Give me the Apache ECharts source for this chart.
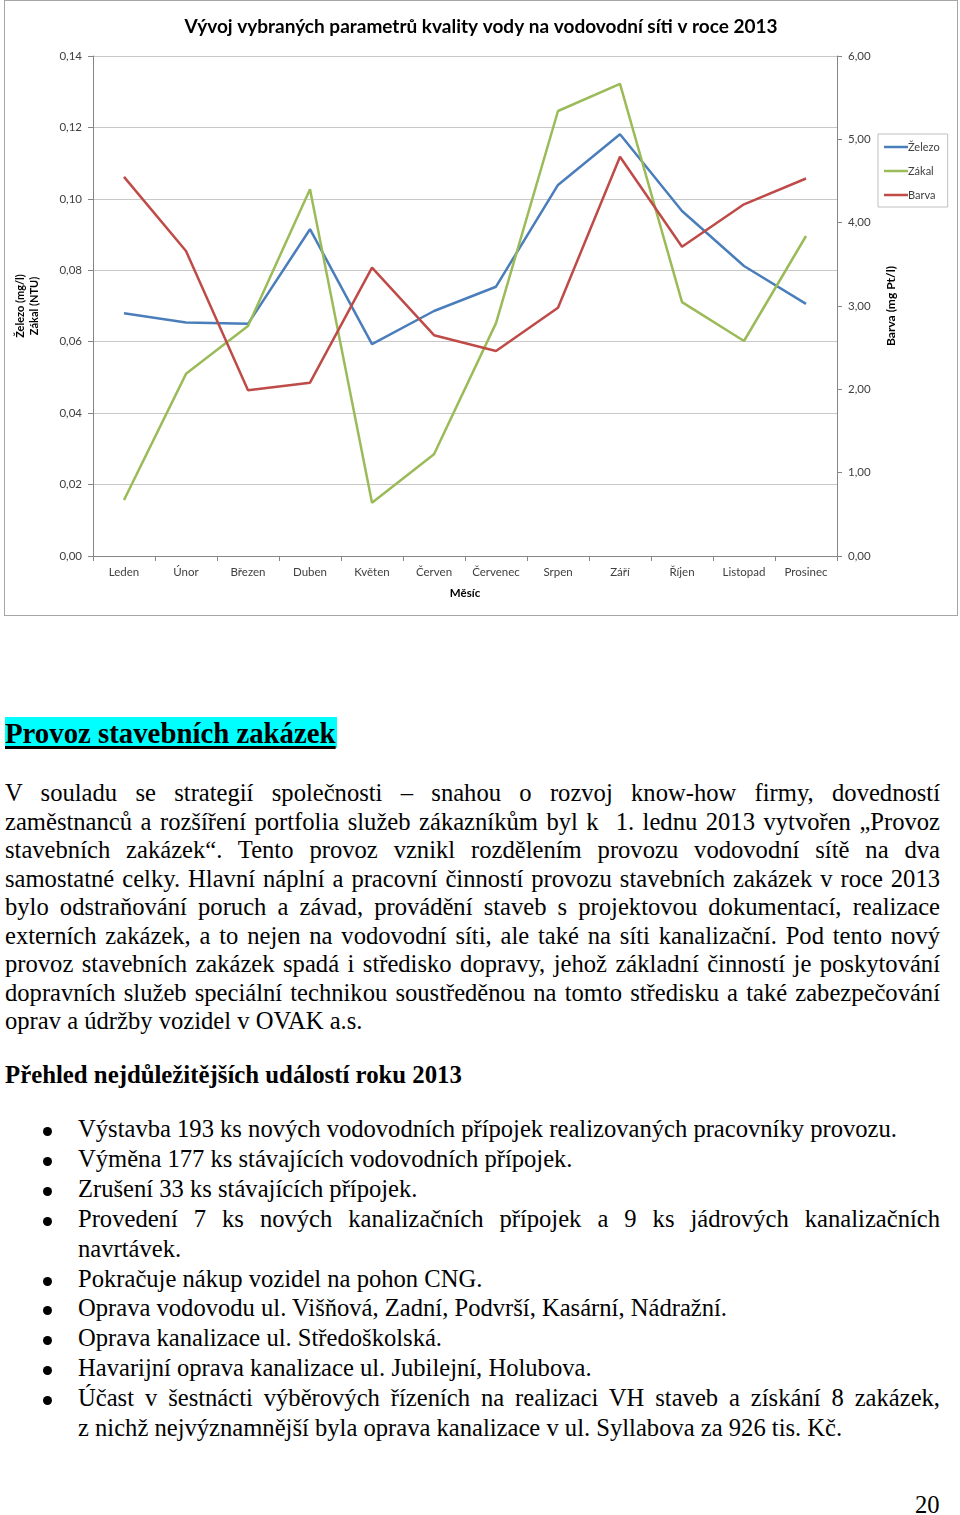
<!DOCTYPE html>
<html lang="cs">
<head>
<meta charset="utf-8">
<title>Vývoj vybraných parametrů kvality vody</title>
<script src="https://cdn.jsdelivr.net/npm/echarts@6/dist/echarts.min.js"></script>
<style>
  html, body { margin: 0; padding: 0; background: #fff; }
  body { width: 960px; height: 1515px; position: relative; overflow: hidden;
         font-family: "Liberation Serif", "Times New Roman", serif; color: #000; }
  #chartBox { position: absolute; left: 4px; top: 0px; width: 952px; height: 614px;
              border: 1px solid #a6a6a6; }
  #chart { width: 952px; height: 614px; }
  .h1 { position: absolute; left: 5px; top: 717px; height: 31px; line-height: 33px;
        font-size: 28.8px; font-weight: bold; background: #00ffff; padding: 0 1px 0 0;
        text-decoration: underline; text-decoration-thickness: 3px; text-underline-offset: 3px; white-space: nowrap; }
  .para { position: absolute; left: 5px; top: 779px; width: 935px; font-size: 24.6px; line-height: 28.5px; }
  .ln { text-align: justify; text-align-last: justify; white-space: normal; }
  .ln.last { text-align: left; text-align-last: left; }
  .h2 { position: absolute; left: 5px; top: 1061px; font-size: 24.8px; font-weight: bold; line-height: 28px; white-space: nowrap; }
  .list { position: absolute; left: 78px; top: 1114px; width: 862px; font-size: 24.6px; line-height: 29.9px; }
  .item { position: relative; }
  .item::before { content: ""; position: absolute; left: -35px; top: 13px; width: 9px; height: 9px;
                  border-radius: 50%; background: #000; }
  .pg { position: absolute; left: 915px; top: 1491px; font-size: 24.6px; line-height: 28px; }
</style>
</head>
<body>
<div id="chartBox"><div id="chart"></div></div>

<div class="h1">Provoz stavebních zakázek</div>
<div class="para">
  <div class="ln">V souladu se strategií společnosti – snahou o rozvoj know-how firmy, dovedností</div>
  <div class="ln">zaměstnanců a rozšíření portfolia služeb zákazníkům byl k&nbsp; 1. lednu 2013 vytvořen „Provoz</div>
  <div class="ln">stavebních zakázek“. Tento provoz vznikl rozdělením provozu vodovodní sítě na dva</div>
  <div class="ln">samostatné celky. Hlavní náplní a pracovní činností provozu stavebních zakázek v roce 2013</div>
  <div class="ln">bylo odstraňování poruch a závad, provádění staveb s&nbsp;projektovou dokumentací, realizace</div>
  <div class="ln">externích zakázek, a to nejen na vodovodní síti, ale také na síti kanalizační. Pod tento nový</div>
  <div class="ln">provoz stavebních zakázek spadá i středisko dopravy, jehož základní činností je poskytování</div>
  <div class="ln">dopravních služeb speciální technikou soustředěnou na tomto středisku a také zabezpečování</div>
  <div class="ln last">oprav a údržby vozidel v OVAK a.s.</div>
</div>
<div class="h2">Přehled nejdůležitějších událostí roku 2013</div>
<div class="list">
  <div class="item"><div class="ln last">Výstavba 193 ks nových vodovodních přípojek realizovaných pracovníky provozu.</div></div>
  <div class="item"><div class="ln last">Výměna 177 ks stávajících vodovodních přípojek.</div></div>
  <div class="item"><div class="ln last">Zrušení 33 ks stávajících přípojek.</div></div>
  <div class="item"><div class="ln">Provedení 7 ks nových kanalizačních přípojek a 9 ks jádrových kanalizačních</div><div class="ln last">navrtávek.</div></div>
  <div class="item"><div class="ln last">Pokračuje nákup vozidel na pohon CNG.</div></div>
  <div class="item"><div class="ln last">Oprava vodovodu ul. Višňová, Zadní, Podvrší, Kasární, Nádražní.</div></div>
  <div class="item"><div class="ln last">Oprava kanalizace ul. Středoškolská.</div></div>
  <div class="item"><div class="ln last">Havarijní oprava kanalizace ul. Jubilejní, Holubova.</div></div>
  <div class="item"><div class="ln">Účast v&nbsp;šestnácti výběrových řízeních na realizaci VH staveb a získání 8 zakázek,</div><div class="ln last">z nichž nejvýznamnější byla oprava kanalizace v ul. Syllabova za 926 tis. Kč.</div></div>
</div>
<div class="pg">20</div>

<script>
// ---- data ----
const months = ["Leden", "Únor", "Březen", "Duben", "Květen", "Červen", "Červenec", "Srpen", "Září", "Říjen", "Listopad", "Prosinec"];
const zelezo = [0.068, 0.0654, 0.065, 0.0915, 0.0593, 0.0686, 0.0754, 0.1039, 0.1181, 0.0966, 0.0812, 0.0706];
const zakal  = [0.0157, 0.051, 0.0644, 0.1027, 0.0149, 0.0285, 0.0652, 0.1246, 0.1322, 0.0711, 0.0602, 0.0896];
const barva  = [4.55, 3.66, 1.99, 2.08, 3.46, 2.65, 2.46, 2.98, 4.79, 3.71, 4.22, 4.53];
const seriesNames = ["Železo", "Zákal", "Barva"];
const leftAxisRange = [0, 0.14, 0.02];
const rightAxisRange = [0, 6, 1];
const chartTitle = "Vývoj vybraných parametrů kvality vody na vodovodní síti v roce 2013";
const leftAxisName = "Železo (mg/l)\nZákal (NTU)";
const rightAxisName = "Barva (mg Pt/l)";
const xAxisName = "Měsíc";

// keep each text line on one row: shrink slightly if a line would wrap
document.querySelectorAll(".ln").forEach(el => {
  let fs = parseFloat(getComputedStyle(el).fontSize);
  const lh = parseFloat(getComputedStyle(el).lineHeight);
  let guard = 0;
  while (el.offsetHeight > lh * 1.5 && guard++ < 40) { fs -= 0.2; el.style.fontSize = fs + "px"; }
});

const colors = ["#4A7EBB", "#9BBB59", "#BE4B48"];
const FONT = "Lato";
const fmt = d => v => v.toFixed(d).replace(".", ",");

const chart = echarts.init(document.getElementById("chart"), null, { renderer: "canvas" });
chart.setOption({
  animation: false,
  color: colors,
  title: {
    text: chartTitle, left: "center", top: 11,
    textStyle: { fontFamily: FONT, fontSize: 19, fontWeight: "bold", color: "#000" }
  },
  legend: {
    orient: "vertical", left: 873, top: 133,
    data: seriesNames,
    icon: "rect",
    itemWidth: 24, itemHeight: 2.5, itemGap: 10,
    padding: [6, 8, 5, 6],
    borderColor: "#bfbfbf", borderWidth: 1,
    textStyle: { fontFamily: FONT, fontSize: 11, color: "#404040", lineHeight: 14, padding: [0, 0, 0, -5] }
  },
  grid: { left: 87, right: 120, top: 55, bottom: 59 },
  xAxis: {
    type: "category", data: months, boundaryGap: true,
    name: xAxisName, nameLocation: "middle", nameGap: 31,
    nameTextStyle: { fontFamily: FONT, fontSize: 11.5, fontWeight: "bold", color: "#000" },
    axisLine: { lineStyle: { color: "#868686", width: 1 } },
    axisTick: { show: true, length: 5, lineStyle: { color: "#868686" } },
    axisLabel: { fontFamily: FONT, fontSize: 11.5, color: "#404040", margin: 10, interval: 0 }
  },
  yAxis: [
    {
      type: "value", position: "left",
      min: leftAxisRange[0], max: leftAxisRange[1], interval: leftAxisRange[2],
      name: leftAxisName, nameLocation: "middle", nameGap: 52,
      nameTextStyle: { fontFamily: FONT, fontSize: 11, fontWeight: "bold", color: "#000", lineHeight: 14 },
      axisLine: { show: true, lineStyle: { color: "#868686" } },
      axisTick: { show: true, length: 5, lineStyle: { color: "#868686" } },
      axisLabel: { fontFamily: FONT, fontSize: 11.5, color: "#404040", margin: 11, formatter: fmt(2) },
      splitLine: { show: true, lineStyle: { color: "#c8c8c8", width: 1 } }
    },
    {
      type: "value", position: "right",
      min: rightAxisRange[0], max: rightAxisRange[1], interval: rightAxisRange[2],
      name: rightAxisName, nameLocation: "middle", nameGap: 48,
      nameTextStyle: { fontFamily: FONT, fontSize: 12, fontWeight: "bold", color: "#000" },
      axisLine: { show: true, lineStyle: { color: "#868686" } },
      axisTick: { show: true, length: 5, lineStyle: { color: "#868686" } },
      axisLabel: { fontFamily: FONT, fontSize: 11.5, color: "#404040", margin: 11, formatter: fmt(2) },
      splitLine: { show: false }
    }
  ],
  series: [
    { name: seriesNames[0], type: "line", yAxisIndex: 0, data: zelezo, symbol: "none",
      lineStyle: { width: 2.5, color: colors[0] } },
    { name: seriesNames[1], type: "line", yAxisIndex: 0, data: zakal, symbol: "none",
      lineStyle: { width: 2.5, color: colors[1] } },
    { name: seriesNames[2], type: "line", yAxisIndex: 1, data: barva, symbol: "none",
      lineStyle: { width: 2.5, color: colors[2] } }
  ]
});
</script>
</body>
</html>
